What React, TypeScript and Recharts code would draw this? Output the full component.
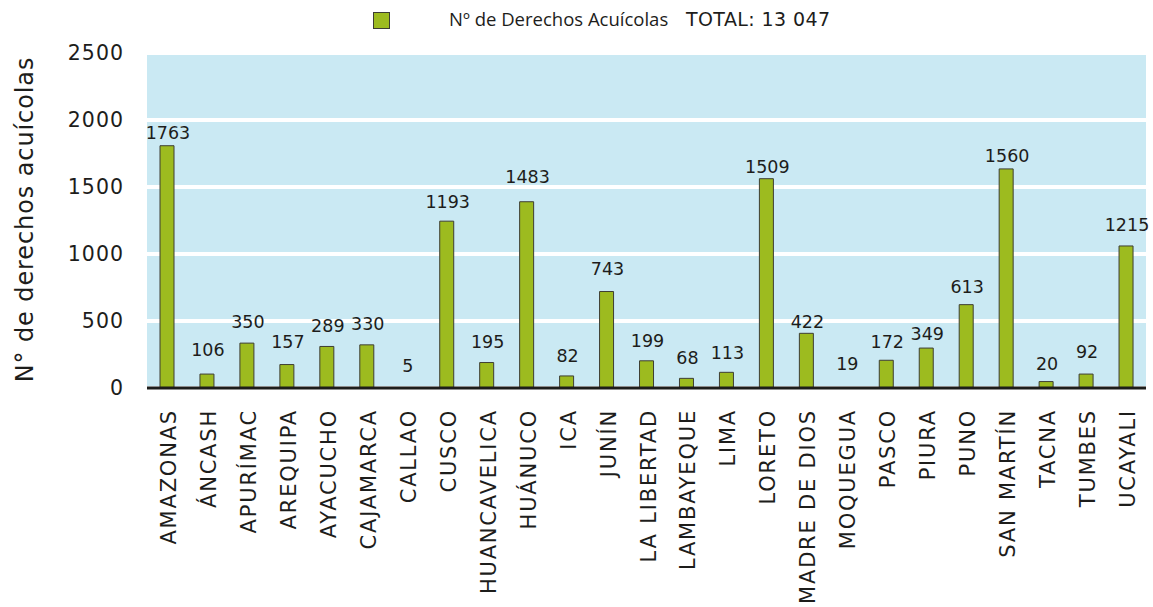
import React from "react";
import {
  ComposedChart,
  Bar,
  Line,
  XAxis,
  YAxis,
  CartesianGrid,
  Legend,
} from "recharts";

// Regions (categories)
const regions = [
  "AMAZONAS", "ÁNCASH", "APURÍMAC", "AREQUIPA", "AYACUCHO", "CAJAMARCA", "CALLAO",
  "CUSCO", "HUANCAVELICA", "HUÁNUCO", "ICA", "JUNÍN", "LA LIBERTAD", "LAMBAYEQUE",
  "LIMA", "LORETO", "MADRE DE DIOS", "MOQUEGUA", "PASCO", "PIURA", "PUNO",
  "SAN MARTÍN", "TACNA", "TUMBES", "UCAYALI",
];

// Printed values (data labels)
const printedValues = [
  1763, 106, 350, 157, 289, 330, 5, 1193, 195, 1483, 82, 743, 199, 68, 113,
  1509, 422, 19, 172, 349, 613, 1560, 20, 92, 1215,
];

// Bar heights as drawn in the reference
const barHeights = [
  1808, 104, 335, 175, 310, 322, 0, 1245, 190, 1390, 90, 720, 203, 72, 117,
  1562, 408, 0, 207, 298, 622, 1635, 48, 104, 1060,
];

// Vertical position (in axis units) where each printed label sits
const labelLevels = [
  1900, 280, 495, 345, 465, 475, 165, 1388, 345, 1572, 237, 890, 349, 222, 262,
  1646, 490, 182, 347, 400, 755, 1729, 182, 272, 1218,
];

const yTicks = [0, 500, 1000, 1500, 2000, 2500];

const legendLabel = "Nº de Derechos Acuícolas";
const legendTotal = "TOTAL: 13 047";
const yTitle = "N° de derechos acuícolas";

const data = regions.map((r, i) => ({
  region: r,
  bar: barHeights[i],
  labelPos: labelLevels[i],
  printed: printedValues[i],
}));

const FONT = "'DejaVu Sans', sans-serif";

const XTick = (props: any) => {
  const { x, y, payload } = props;
  const tx = x + 2;
  return (
    <text
      x={tx}
      y={y}
      transform={`rotate(-90, ${tx}, ${y})`}
      textAnchor="end"
      dominantBaseline="central"
      fontFamily={FONT}
      fontSize={21}
      letterSpacing={1.8}
      fill="#1d1d1b"
    >
      {payload.value}
    </text>
  );
};

const LabelDot = (props: any) => {
  const { cx, cy, index } = props;
  return (
    <text
      key={`lbl-${index}`}
      x={cx + 1}
      y={cy}
      textAnchor="middle"
      dominantBaseline="central"
      fontFamily={FONT}
      fontSize={17.5}
      fill="#1d1d1b"
    >
      {printedValues[index]}
    </text>
  );
};

const LegendContent = () => (
  <div style={{ position: "relative", width: 1153, height: 53 }}>
    <div
      style={{
        position: "absolute",
        left: 373,
        top: 12,
        width: 15,
        height: 15,
        background: "#9dbb1f",
        border: "1px solid #3d3d33",
      }}
    />
    <span
      style={{
        position: "absolute",
        left: 449,
        top: 6,
        fontFamily: "'Open Sans', sans-serif",
        fontSize: 18.5,
        color: "#1d1d1b",
        whiteSpace: "nowrap",
        lineHeight: "26px",
      }}
    >
      {legendLabel}
    </span>
    <span
      style={{
        position: "absolute",
        left: 686,
        top: 6,
        fontFamily: FONT,
        fontSize: 19,
        letterSpacing: 0.4,
        color: "#1d1d1b",
        whiteSpace: "nowrap",
        lineHeight: "26px",
      }}
    >
      {legendTotal}
    </span>
  </div>
);

const YTitle = (props: any) => {
  const vb = props.viewBox || { x: 0, y: 53, width: 147, height: 335 };
  const x = 25;
  const y = vb.y + vb.height / 2 - 1;
  return (
    <text
      x={x}
      y={y}
      transform={`rotate(-90, ${x}, ${y})`}
      textAnchor="middle"
      dominantBaseline="central"
      fontFamily={FONT}
      fontSize={24}
      letterSpacing={0.9}
      fill="#1d1d1b"
    >
      {yTitle}
    </text>
  );
};

export default function App() {
  return (
    <div style={{ position: "absolute", left: 0, top: 0, width: 1153, height: 607, background: "#fff" }}>
      <ComposedChart
        width={1153}
        height={607}
        data={data}
        margin={{ top: 0, right: 7, bottom: 0, left: 0 }}
      >
        <Legend
          verticalAlign="top"
          align="left"
          height={53}
          width={1153}
          wrapperStyle={{ left: 0, top: 0 }}
          content={() => <LegendContent />}
        />
        <CartesianGrid
          fill="#cae9f3"
          fillOpacity={1}
          stroke="#ffffff"
          strokeWidth={4}
          vertical={false}
        />
        <XAxis
          dataKey="region"
          interval={0}
          height={219}
          tickSize={0}
          tickMargin={21}
          axisLine={{ stroke: "#1d1d1b", strokeWidth: 3 }}
          tickLine={false}
          tick={<XTick />}
        />
        <YAxis
          domain={[0, 2500]}
          ticks={yTicks}
          width={147}
          axisLine={false}
          tickLine={false}
          tickSize={0}
          tickMargin={23}
          tick={{ fontFamily: FONT, fontSize: 20.5, fill: "#1d1d1b", letterSpacing: 1 }}
          label={{ content: (p: any) => <YTitle {...p} /> }}
        />
        <Bar
          dataKey="bar"
          barSize={14}
          fill="#9dbb1f"
          stroke="#3d3d33"
          strokeWidth={1}
          isAnimationActive={false}
        />
        <Line
          dataKey="labelPos"
          stroke="none"
          legendType="none"
          isAnimationActive={false}
          activeDot={false}
          dot={(p: any) => <LabelDot {...p} key={`d-${p.index}`} />}
        />
      </ComposedChart>
    </div>
  );
}
